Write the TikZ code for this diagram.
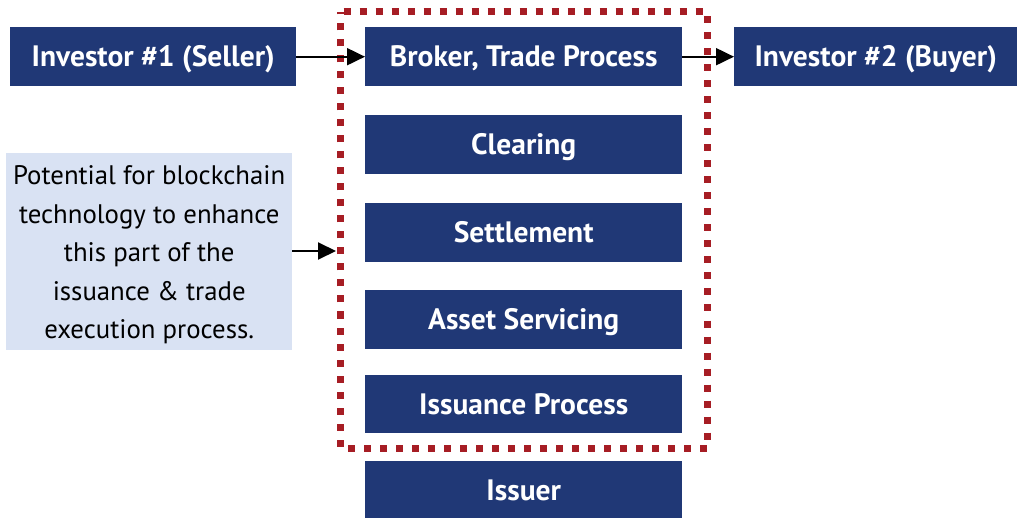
\documentclass[tikz,border=0pt]{standalone}
\usepackage{fontspec}
\setmainfont{PT Sans}
\usetikzlibrary{arrows.meta}
\definecolor{navy}{HTML}{203876}
\definecolor{paleblue}{HTML}{D9E2F3}
\definecolor{dotred}{HTML}{A61D24}
\begin{document}
\begin{tikzpicture}[x=1pt,y=-1pt,
  stage/.style={fill=navy,text=white,font=\fontsize{29.5}{32}\selectfont\bfseries,
    minimum height=59pt,inner sep=0pt,text height=23pt,text depth=3pt,anchor=north west},
  flow/.style={line width=2pt,-{Triangle[length=18pt,width=17pt]}}]
\useasboundingbox (0,0) rectangle (1019,518);
% process stages
\node[stage,minimum width=286pt] (inv1) at (10,27) {Investor \#1 (Seller)};
\node[stage,minimum width=317pt] (broker) at (365,27) {Broker, Trade Process};
\node[stage,minimum width=283pt] (inv2) at (734,27) {Investor \#2 (Buyer)};
\node[stage,minimum width=317pt] (clear) at (365,115) {Clearing};
\node[stage,minimum width=317pt] (settle) at (365,203) {Settlement};
\node[stage,minimum width=317pt] (asset) at (365,290) {Asset Servicing};
\node[stage,minimum width=317pt,minimum height=58pt] (issproc) at (365,375) {Issuance Process};
\node[stage,minimum width=317pt,minimum height=58pt] (issuer) at (365,461) {Issuer};
% scope of blockchain potential
\draw[dotred,line width=7pt,dash pattern=on 7pt off 9pt,dash phase=-3.5pt]
  (340,12) -- (707,12) -- (707,448) -- (340,448) -- cycle;
\coordinate (edge) at (336,251);
% note
\node[fill=paleblue,minimum width=286pt,minimum height=197pt,inner sep=0pt,anchor=north west,
  label={[align=center,font=\fontsize{26.8}{38.5}\selectfont,yshift=-3pt]center:{Potential for blockchain\\technology to enhance\\this part of the\\issuance \& trade\\execution process.}}]
  (note) at (6,153) {};
% connectors
\draw[flow] (inv1) -- (broker);
\draw[flow] (broker) -- (inv2);
\draw[flow] (note.east |- edge) -- (edge);
\end{tikzpicture}
\end{document}
